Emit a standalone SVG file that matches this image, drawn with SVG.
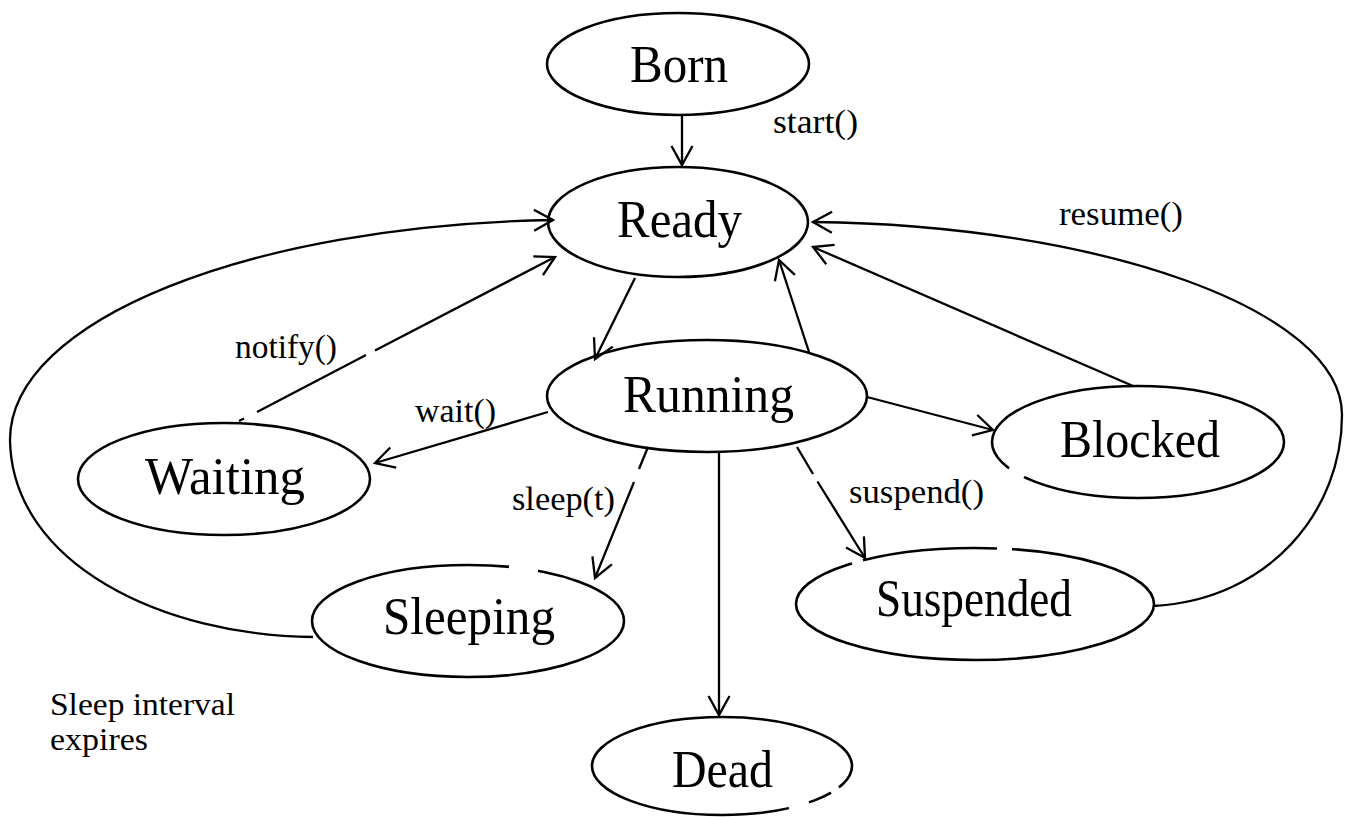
<svg xmlns="http://www.w3.org/2000/svg" width="1349" height="817" viewBox="0 0 1349 817">
  <style>
    .state { fill: #fff; stroke: #000; stroke-width: 2.6; }
    .gap { fill: none; stroke: #fff; stroke-width: 6; stroke-linecap: butt; }
    .name { font-family: "Liberation Serif", "Times New Roman", serif; font-size: 52px; fill: #000; }
    .lbl { font-family: "Liberation Serif", "Times New Roman", serif; font-size: 33px; fill: #000; }
    .note { font-family: "Liberation Serif", "Times New Roman", serif; font-size: 31px; fill: #000; }
    .edge { fill: none; stroke: #000; stroke-width: 2.3; }
    .arrow { marker-end: url(#open-arrow); }
  </style>
  <defs>
    <marker id="open-arrow" viewBox="-22 -12 24 24" markerWidth="24" markerHeight="24" refX="0" refY="0" orient="auto" markerUnits="userSpaceOnUse" overflow="visible">
      <path d="M-19,-10.5 L0,0 L-19,10.5" fill="none" stroke="#000" stroke-width="2.3" stroke-linejoin="miter"/>
    </marker>
  </defs>
  <rect width="1349" height="817" fill="#fff"/>

  <!-- states -->
  <g id="born">
    <ellipse class="state" cx="678" cy="64" rx="131" ry="51"/>
    <text class="name" x="630" y="82" textLength="98" lengthAdjust="spacingAndGlyphs">Born</text>
  </g>
  <g id="ready">
    <ellipse class="state" cx="678" cy="222" rx="130" ry="55"/>
    <text class="name" x="617" y="237" textLength="125" lengthAdjust="spacingAndGlyphs">Ready</text>
  </g>
  <g id="running">
    <ellipse class="state" cx="707" cy="396" rx="160" ry="56"/>
    <text class="name" x="623" y="412" textLength="171" lengthAdjust="spacingAndGlyphs">Running</text>
  </g>
  <g id="waiting">
    <ellipse class="state" cx="224" cy="479" rx="146" ry="56"/>
    <text class="name" x="145" y="494" textLength="160" lengthAdjust="spacingAndGlyphs">Waiting</text>
  </g>
  <g id="blocked">
    <ellipse class="state" cx="1138" cy="442" rx="146" ry="56"/>
    <path class="gap" d="M1009,468.5 L1024,477"/>
    <text class="name" x="1060" y="457" textLength="160" lengthAdjust="spacingAndGlyphs">Blocked</text>
  </g>
  <g id="sleeping">
    <ellipse class="state" cx="468" cy="621" rx="156" ry="56"/>
    <path class="gap" d="M509,566.9 L538,571"/>
    <text class="name" x="383" y="634" textLength="172" lengthAdjust="spacingAndGlyphs">Sleeping</text>
  </g>
  <g id="suspended">
    <ellipse class="state" cx="975" cy="604" rx="179" ry="56"/>
    <path class="gap" d="M997,548.4 L1012,549.2 M852,563.3 L863,560.3"/>
    <text class="name" x="876" y="616" textLength="196" lengthAdjust="spacingAndGlyphs">Suspended</text>
  </g>
  <g id="dead">
    <ellipse class="state" cx="722" cy="766" rx="130" ry="49"/>
    <path class="gap" d="M789,808 L809,802.5 M831,792.6 L839,787.5"/>
    <text class="name" x="672" y="787" textLength="101" lengthAdjust="spacingAndGlyphs">Dead</text>
  </g>

  <!-- transitions -->
  <g id="connectors">
    <path class="edge arrow" d="M682,115 L682,165"/>
    <path class="edge arrow" d="M635,278 L595,359"/>
    <path class="edge arrow" d="M809,352 L779,260"/>
    <path class="edge arrow" d="M1133,386 L813,247"/>
    <path class="edge arrow" d="M1153,606 C1270,600 1342,510 1342,415 C1342,310 1100,225 813,222"/>
    <path class="edge arrow" d="M867,397 L993,430"/>
    <path class="edge arrow" d="M548,412 L375,463"/>
    <path class="edge arrow" d="M239,421 L244,418.5 M257,412 L366,355 M375,350.5 L555,257"/>
    <path class="edge arrow" d="M648,447 L639,469 M634,482 L595,578"/>
    <path class="edge arrow" d="M719,453 L719,715"/>
    <path class="edge arrow" d="M797,447 L813,474 M817.5,481.5 L865,558"/>
    <path class="edge arrow" d="M313,637 C165,636 12,565 10,440 C10,320 250,225 553,220"/>
  </g>

  <!-- transition labels -->
  <g id="labels">
    <text class="lbl" x="773" y="133" textLength="85" lengthAdjust="spacingAndGlyphs">start()</text>
    <text class="lbl" x="1059" y="225" textLength="124" lengthAdjust="spacingAndGlyphs">resume()</text>
    <text class="lbl" x="235" y="358" textLength="102" lengthAdjust="spacingAndGlyphs">notify()</text>
    <text class="lbl" x="415" y="422" textLength="81" lengthAdjust="spacingAndGlyphs">wait()</text>
    <text class="lbl" x="512" y="510" textLength="103" lengthAdjust="spacingAndGlyphs">sleep(t)</text>
    <text class="lbl" x="849" y="503" textLength="135" lengthAdjust="spacingAndGlyphs">suspend()</text>
    <text class="note" x="50" y="715" textLength="185" lengthAdjust="spacingAndGlyphs">Sleep interval</text>
    <text class="note" x="50" y="750" textLength="98" lengthAdjust="spacingAndGlyphs">expires</text>
  </g>
</svg>
